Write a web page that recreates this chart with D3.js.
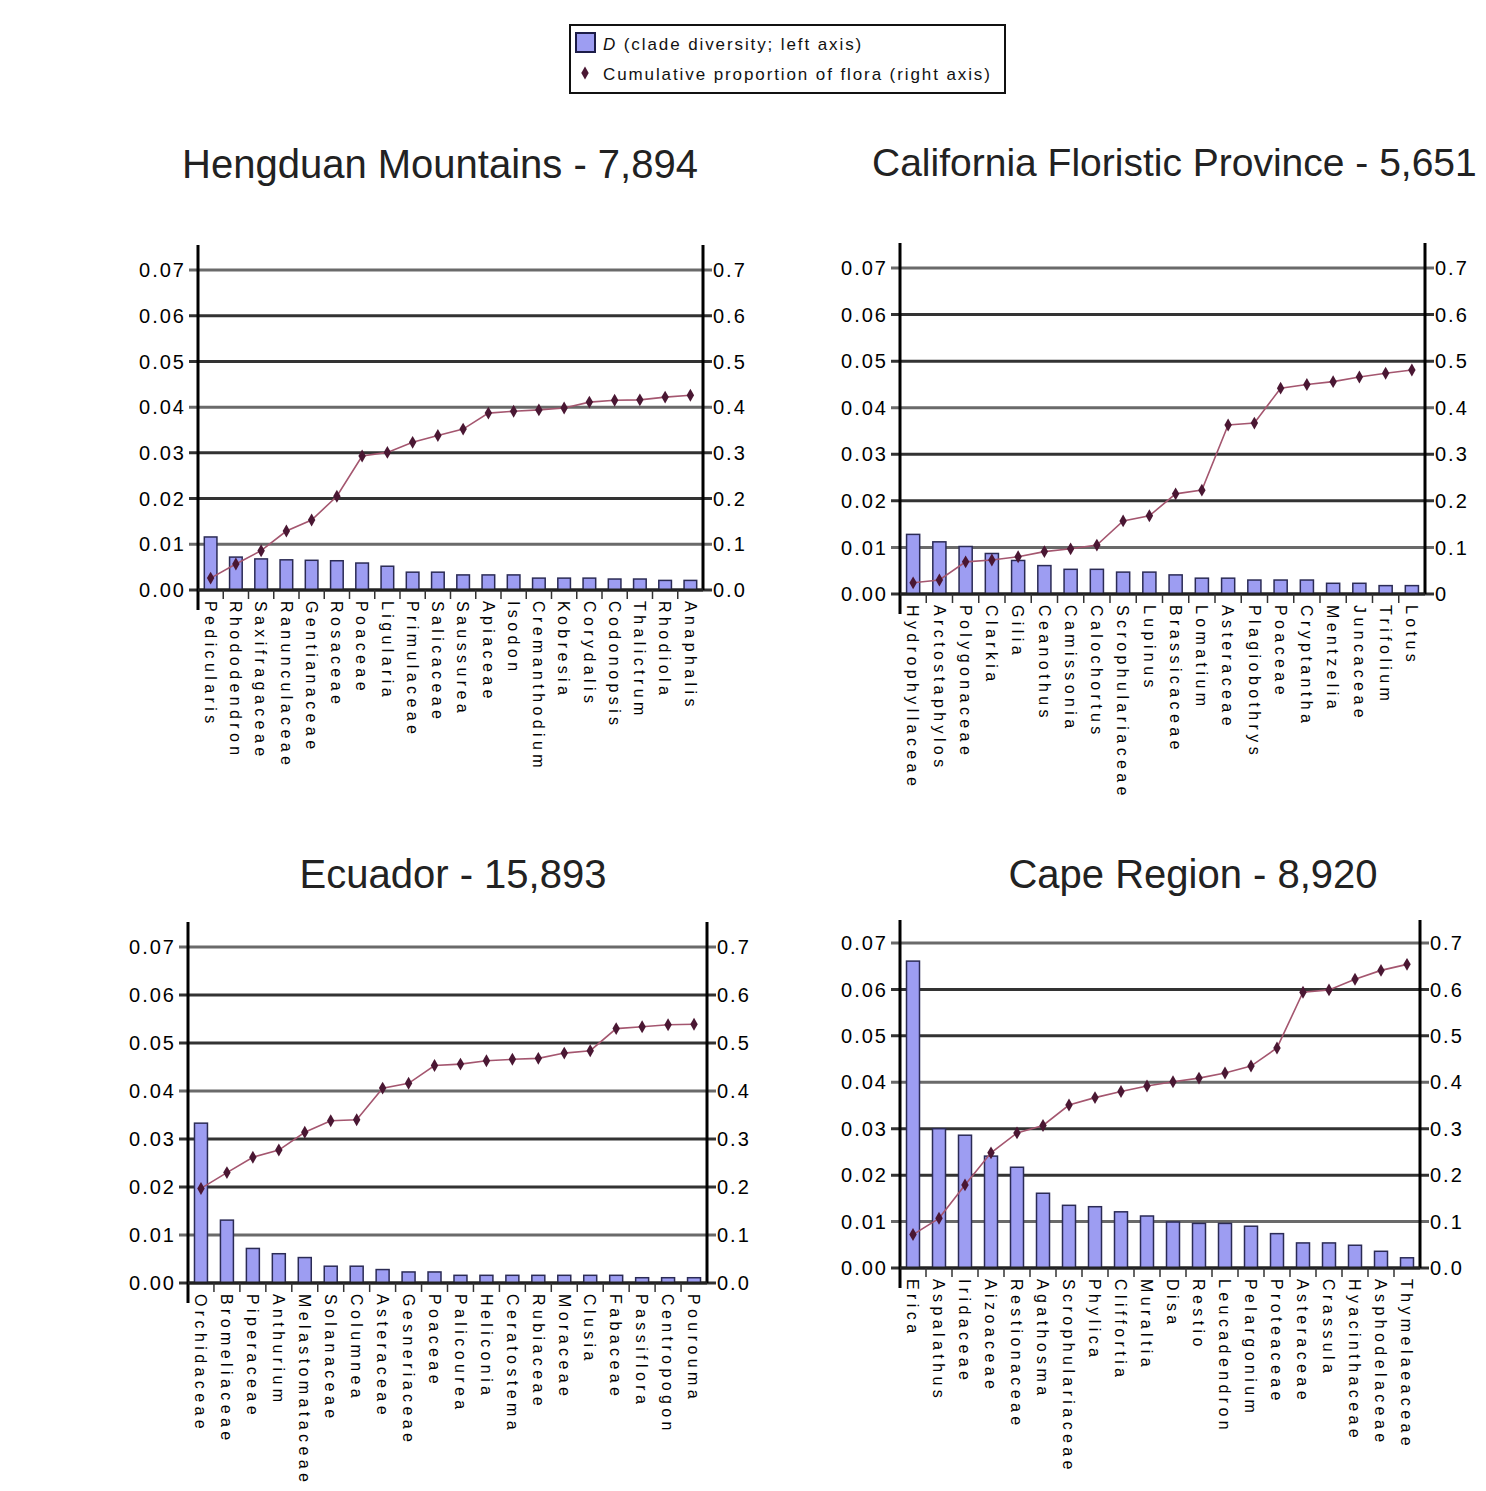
<!DOCTYPE html>
<html>
<head>
<meta charset="utf-8">
<script src="https://cdn.jsdelivr.net/npm/d3@7/dist/d3.min.js"></script>
<style>
  body { margin: 0; background: #fff; }
  text { font-family: "Liberation Sans", Arial, sans-serif; fill: #111; }
</style>
</head>
<body>
<svg id="chart" width="1486" height="1491"></svg>
<script>
// tick labels
var leftTicks = ['0.00', '0.01', '0.02', '0.03', '0.04', '0.05', '0.06', '0.07'];
var rightTicks = ['0.0', '0.1', '0.2', '0.3', '0.4', '0.5', '0.6', '0.7'];
var rightTicksCa = ['0', '0.1', '0.2', '0.3', '0.4', '0.5', '0.6', '0.7'];

// Hengduan Mountains
var hdNames = ['Pedicularis', 'Rhododendron', 'Saxifragaceae', 'Ranunculaceae', 'Gentianaceae', 'Rosaceae', 'Poaceae',
  'Ligularia', 'Primulaceae', 'Salicaceae', 'Saussurea', 'Apiaceae', 'Isodon', 'Cremanthodium', 'Kobresia',
  'Corydalis', 'Codonopsis', 'Thalictrum', 'Rhodiola', 'Anaphalis'];
var hdD = [0.0116, 0.0072, 0.0068, 0.0066, 0.0065, 0.0064, 0.0059, 0.0052, 0.0039, 0.0039,
  0.0033, 0.0033, 0.0033, 0.0026, 0.0026, 0.0026, 0.0024, 0.0024, 0.0021, 0.0021];
var hdCum = [0.026, 0.057, 0.086, 0.129, 0.153, 0.205, 0.293, 0.301, 0.323, 0.338,
  0.352, 0.387, 0.391, 0.394, 0.398, 0.411, 0.415, 0.416, 0.422, 0.426];

// California Floristic Province
var caNames = ['Hydrophyllaceae', 'Arctostaphylos', 'Polygonaceae', 'Clarkia', 'Gilia', 'Ceanothus', 'Camissonia',
  'Calochortus', 'Scrophulariaceae', 'Lupinus', 'Brassicaceae', 'Lomatium', 'Asteraceae', 'Plagiobothrys',
  'Poaceae', 'Cryptantha', 'Mentzelia', 'Juncaceae', 'Trifolium', 'Lotus'];
var caD = [0.0128, 0.0112, 0.0102, 0.0087, 0.0072, 0.0061, 0.0053, 0.0053, 0.0047, 0.0047,
  0.0041, 0.0034, 0.0034, 0.0030, 0.0030, 0.0030, 0.0023, 0.0023, 0.0018, 0.0018];
var caCum = [0.024, 0.030, 0.069, 0.073, 0.080, 0.091, 0.097, 0.105, 0.157, 0.168,
  0.215, 0.223, 0.363, 0.367, 0.442, 0.450, 0.456, 0.466, 0.474, 0.481];

// Ecuador
var ecNames = ['Orchidaceae', 'Bromeliaceae', 'Piperaceae', 'Anthurium', 'Melastomataceae', 'Solanaceae', 'Columnea',
  'Asteraceae', 'Gesneriaceae', 'Poaceae', 'Palicourea', 'Heliconia', 'Ceratostema', 'Rubiaceae', 'Moraceae',
  'Clusia', 'Fabaceae', 'Passiflora', 'Centropogon', 'Pourouma'];
var ecD = [0.0333, 0.0131, 0.0072, 0.0061, 0.0053, 0.0035, 0.0035, 0.0028, 0.0023, 0.0023,
  0.0016, 0.0016, 0.0016, 0.0016, 0.0016, 0.0016, 0.0016, 0.0011, 0.0011, 0.0011];
var ecCum = [0.197, 0.230, 0.262, 0.277, 0.314, 0.338, 0.340, 0.406, 0.416, 0.453,
  0.456, 0.463, 0.466, 0.468, 0.479, 0.484, 0.530, 0.534, 0.538, 0.539];

// Cape Region
var cpNames = ['Erica', 'Aspalathus', 'Iridaceae', 'Aizoaceae', 'Restionaceae', 'Agathosma', 'Scrophulariaceae',
  'Phylica', 'Cliffortia', 'Muraltia', 'Disa', 'Restio', 'Leucadendron', 'Pelargonium', 'Proteaceae',
  'Asteraceae', 'Crassula', 'Hyacinthaceae', 'Asphodelaceae', 'Thymelaeaceae'];
var cpD = [0.0661, 0.0300, 0.0286, 0.0241, 0.0217, 0.0161, 0.0135, 0.0132, 0.0121, 0.0112,
  0.0099, 0.0096, 0.0096, 0.0090, 0.0074, 0.0054, 0.0054, 0.0049, 0.0036, 0.0022];
var cpCum = [0.072, 0.107, 0.179, 0.248, 0.291, 0.307, 0.351, 0.367, 0.380, 0.392,
  0.401, 0.409, 0.420, 0.435, 0.474, 0.594, 0.599, 0.622, 0.641, 0.654];

var barFill = '#9d9df2';
var lineColor = '#a4566f';
var markerColor = '#4a1733';

var svg = d3.select('#chart');

svg.append('rect').attr('width', 1486).attr('height', 1491).attr('fill', '#fff');

// panel placement
var panels = [
  { title: 'Hengduan Mountains - 7,894', tx: 440, ty: 178, anchor: 'middle', fs: 40,
    left: 198, right: 703, top: 245, y0: 590, y7: 270,
    names: hdNames, d: hdD, cum: hdCum, rTicks: rightTicks },
  { title: 'California Floristic Province - 5,651', tx: 872, ty: 176, anchor: 'start', fs: 39,
    left: 900, right: 1425, top: 243, y0: 594, y7: 268,
    names: caNames, d: caD, cum: caCum, rTicks: rightTicksCa },
  { title: 'Ecuador - 15,893', tx: 453, ty: 888, anchor: 'middle', fs: 40,
    left: 188, right: 707, top: 922, y0: 1283, y7: 947,
    names: ecNames, d: ecD, cum: ecCum, rTicks: rightTicks },
  { title: 'Cape Region - 8,920', tx: 1193, ty: 888, anchor: 'middle', fs: 40,
    left: 900, right: 1420, top: 920, y0: 1268, y7: 943,
    names: cpNames, d: cpD, cum: cpCum, rTicks: rightTicks }
];

panels.forEach(drawPanel);
drawLegend();

function drawPanel(p) {
  var g = svg.append('g').attr('class', 'panel');

  var x = d3.scaleBand()
    .domain(p.names)
    .range([p.left, p.right])
    .paddingInner(0.5)
    .paddingOuter(0.25);
  var yL = d3.scaleLinear().domain([0, 0.07]).range([p.y0, p.y7]);
  var yR = d3.scaleLinear().domain([0, 0.7]).range([p.y0, p.y7]);

  g.append('text')
    .attr('x', p.tx)
    .attr('y', p.ty)
    .attr('text-anchor', p.anchor)
    .style('font-size', p.fs + 'px')
    .style('fill', '#222')
    .text(p.title);

  // grid lines, running past both axes as ticks
  g.selectAll('line.grid')
    .data(leftTicks)
    .enter()
    .append('line')
    .attr('class', 'grid')
    .attr('x1', p.left - 9)
    .attr('x2', p.right + 9)
    .attr('y1', function (d) { return yL(+d); })
    .attr('y2', function (d) { return yL(+d); })
    .attr('stroke', function (d, i) { return i % 3 === 1 ? '#6a6a6a' : '#333'; })
    .attr('stroke-width', 3);

  g.selectAll('text.ltick')
    .data(leftTicks)
    .enter()
    .append('text')
    .attr('class', 'ltick')
    .attr('x', p.left - 12)
    .attr('y', function (d) { return yL(+d); })
    .attr('dy', '0.36em')
    .attr('text-anchor', 'end')
    .style('font-size', '20px')
    .style('letter-spacing', '2px')
    .style('fill', '#000')
    .text(String);

  g.selectAll('text.rtick')
    .data(p.rTicks)
    .enter()
    .append('text')
    .attr('class', 'rtick')
    .attr('x', p.right + 10)
    .attr('y', function (d) { return yR(+d); })
    .attr('dy', '0.36em')
    .style('font-size', '20px')
    .style('letter-spacing', '2px')
    .style('fill', '#000')
    .text(String);

  // bars
  g.selectAll('rect.bar')
    .data(p.d)
    .enter()
    .append('rect')
    .attr('class', 'bar')
    .attr('x', function (d, i) { return x(p.names[i]); })
    .attr('y', function (d) { return yL(d); })
    .attr('width', x.bandwidth())
    .attr('height', function (d) { return yL(0) - yL(d); })
    .attr('fill', barFill)
    .attr('stroke', '#2b2b55')
    .attr('stroke-width', 1.5);

  // axes frame
  g.append('line')
    .attr('x1', p.left).attr('x2', p.left)
    .attr('y1', p.top).attr('y2', p.y0 + 20)
    .attr('stroke', '#000').attr('stroke-width', 3);
  g.append('line')
    .attr('x1', p.right).attr('x2', p.right)
    .attr('y1', p.top).attr('y2', p.y0)
    .attr('stroke', '#000').attr('stroke-width', 3);
  g.append('line')
    .attr('x1', p.left).attr('x2', p.right)
    .attr('y1', p.y0).attr('y2', p.y0)
    .attr('stroke', '#222').attr('stroke-width', 3);

  // category ticks between bars
  g.selectAll('line.ctick')
    .data(p.names.slice(1))
    .enter()
    .append('line')
    .attr('class', 'ctick')
    .attr('x1', function (d) { return x(d) - x.step() / 4; })
    .attr('x2', function (d) { return x(d) - x.step() / 4; })
    .attr('y1', p.y0)
    .attr('y2', p.y0 + 9)
    .attr('stroke', '#333')
    .attr('stroke-width', 1.5);

  // category labels, reading downwards
  g.selectAll('text.cat')
    .data(p.names)
    .enter()
    .append('text')
    .attr('class', 'cat')
    .attr('transform', function (d) {
      return 'translate(' + (x(d) + x.bandwidth() / 2) + ',' + (p.y0 + 11) + ') rotate(90)';
    })
    .attr('dy', '0.36em')
    .style('font-size', '16px')
    .style('letter-spacing', '4.4px')
    .style('fill', '#000')
    .text(String);

  // cumulative line on right axis
  var line = d3.line()
    .x(function (d, i) { return x(p.names[i]) + x.bandwidth() / 2; })
    .y(function (d) { return yR(d); });

  g.append('path')
    .datum(p.cum)
    .attr('d', line)
    .attr('fill', 'none')
    .attr('stroke', lineColor)
    .attr('stroke-width', 1.6);

  g.selectAll('path.marker')
    .data(p.cum)
    .enter()
    .append('path')
    .attr('class', 'marker')
    .attr('d', d3.symbol().type(d3.symbolDiamond).size(48))
    .attr('transform', function (d, i) {
      return 'translate(' + (x(p.names[i]) + x.bandwidth() / 2) + ',' + yR(d) + ')';
    })
    .attr('fill', markerColor);
}

function drawLegend() {
  var lg = svg.append('g').attr('class', 'legend');

  lg.append('rect')
    .attr('x', 570).attr('y', 25)
    .attr('width', 435).attr('height', 68)
    .attr('fill', '#fff')
    .attr('stroke', '#111')
    .attr('stroke-width', 2);

  lg.append('rect')
    .attr('x', 576).attr('y', 33)
    .attr('width', 19).attr('height', 19)
    .attr('fill', barFill)
    .attr('stroke', '#1c1c48')
    .attr('stroke-width', 2);

  var t1 = lg.append('text')
    .attr('x', 603).attr('y', 50)
    .style('font-size', '17px')
    .style('letter-spacing', '1.9px');
  t1.append('tspan').style('font-style', 'italic').text('D');
  t1.append('tspan').text(' (clade diversity; left axis)');

  lg.append('path')
    .attr('d', d3.symbol().type(d3.symbolDiamond).size(48))
    .attr('transform', 'translate(585,73)')
    .attr('fill', markerColor);

  lg.append('text')
    .attr('x', 603).attr('y', 80)
    .style('font-size', '17px')
    .style('letter-spacing', '1.9px')
    .text('Cumulative proportion of flora (right axis)');
}
</script>
</body>
</html>
